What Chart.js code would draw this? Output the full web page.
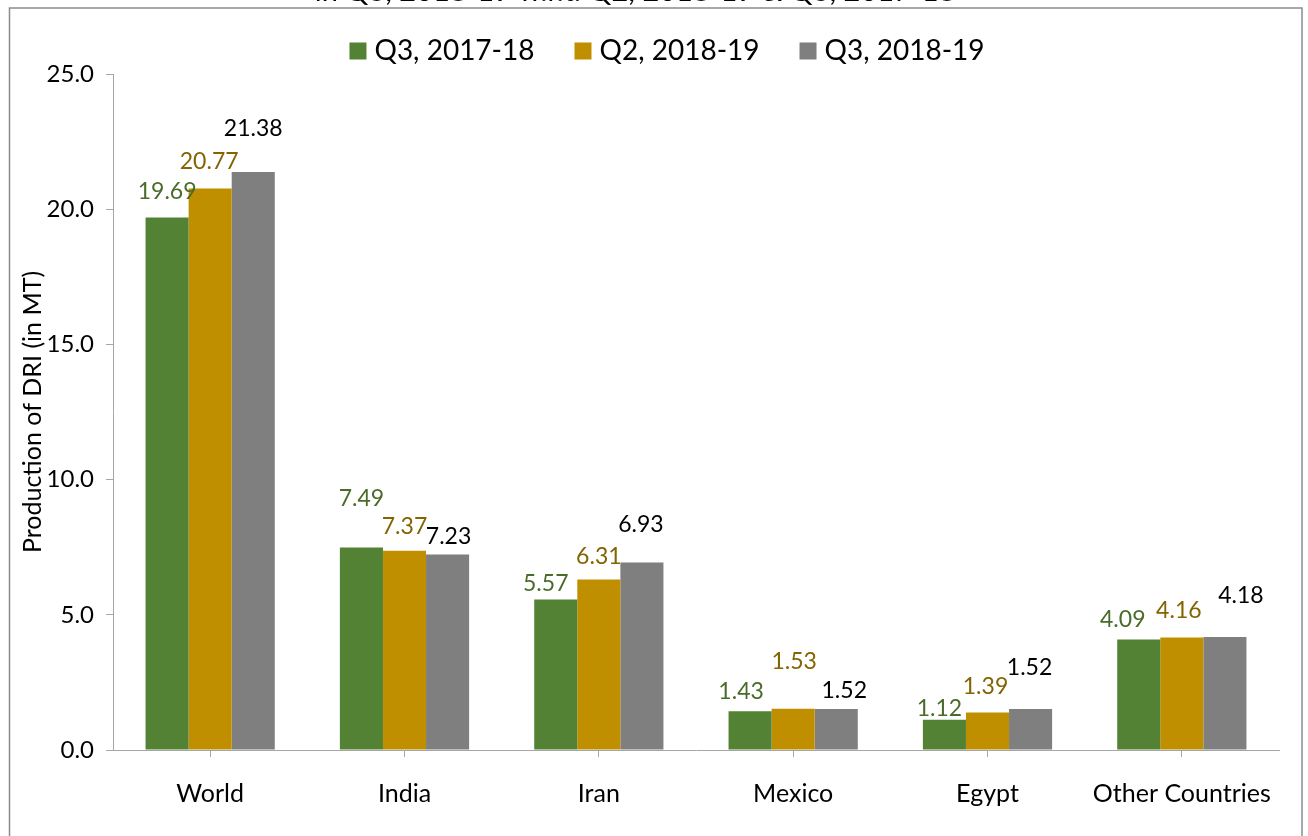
<!DOCTYPE html>
<html>
<head>
<meta charset="utf-8">
<script src="https://cdn.jsdelivr.net/npm/chart.js@4.4.1/dist/chart.umd.min.js"></script>
<style>
  html, body { margin: 0; padding: 0; background: #ffffff; }
</style>
</head>
<body>
<canvas id="driChart" width="1308" height="836"></canvas>
<script>
// Data
const countries = ["World", "India", "Iran", "Mexico", "Egypt", "Other Countries"];
const seriesNames = ["Q3, 2017-18", "Q2, 2018-19", "Q3, 2018-19"];
const q3_2017_18 = [19.69, 7.49, 5.57, 1.43, 1.12, 4.09];
const q2_2018_19 = [20.77, 7.37, 6.31, 1.53, 1.39, 4.16];
const q3_2018_19 = [21.38, 7.23, 6.93, 1.52, 1.52, 4.18];
const yTicks = [0, 5, 10, 15, 20, 25];

const barColors = ["#548235", "#BF8F00", "#7F7F7F"];
const labelColors = ["#4A6B2A", "#846400", "#000000"];

// manual nudges of the value labels, [dx, dy] from the top of each bar
const labelNudge = [
  [[0, -26], [0, -49], [-10, -16], [-9, -20], [-5, -11], [-16, -20]],
  [[-1, -27], [0, -24], [0, -23], [1, -47], [-2, -26], [-3, -27]],
  [[0, -43], [1, -18], [-1, -38], [8, -18], [-1, -41], [16, -41]],
];

const FONT = "Lato, 'DejaVu Sans', sans-serif";

// frame + clipped title + legend drawn by hand
const framePlugin = {
  id: "frame",
  beforeDraw(chart) {
    const ctx = chart.ctx;
    ctx.save();
    ctx.strokeStyle = "#8c8c8c";
    ctx.lineWidth = 1.5;
    ctx.strokeRect(9.5, 8, 1292.5, 900);
    ctx.fillStyle = "#000000";
    ctx.font = "29px " + FONT;
    ctx.textAlign = "center";
    ctx.textBaseline = "alphabetic";
    ctx.fillText("in Q3, 2018-19 w.r.t. Q2, 2018-19 & Q3, 2017-18", 635, 1);
    ctx.restore();
  },
  afterDraw(chart) {
    const ctx = chart.ctx;
    ctx.save();
    ctx.font = "28px " + FONT;
    ctx.textBaseline = "middle";
    ctx.textAlign = "left";
    const box = 17, gap = 8, spacing = 40;
    const widths = seriesNames.map((n) => ctx.measureText(n).width);
    const total = widths.reduce((a, w) => a + box + gap + w, 0) + spacing * (seriesNames.length - 1);
    let x = 667 - total / 2;
    const y = 51;
    seriesNames.forEach((name, i) => {
      ctx.fillStyle = barColors[i];
      ctx.fillRect(x, y - box / 2, box, box);
      ctx.fillStyle = "#000000";
      ctx.fillText(name, x + box + gap, y);
      x += box + gap + widths[i] + spacing;
    });
    ctx.restore();
  },
};

const valueLabels = {
  id: "valueLabels",
  afterDatasetsDraw(chart) {
    const ctx = chart.ctx;
    ctx.save();
    ctx.font = "23px " + FONT;
    ctx.textAlign = "center";
    ctx.textBaseline = "middle";
    chart.data.datasets.forEach((ds, di) => {
      const meta = chart.getDatasetMeta(di);
      ctx.fillStyle = labelColors[di];
      meta.data.forEach((bar, i) => {
        const n = labelNudge[di][i];
        ctx.fillText(ds.data[i].toFixed(2), bar.x + n[0], bar.y + n[1]);
      });
    });
    ctx.restore();
  },
};

const ctx = document.getElementById("driChart").getContext("2d");
window.driChart = new Chart(ctx, {
  type: "bar",
  data: {
    labels: countries,
    datasets: [
      { label: seriesNames[0], data: q3_2017_18, backgroundColor: barColors[0] },
      { label: seriesNames[1], data: q2_2018_19, backgroundColor: barColors[1] },
      { label: seriesNames[2], data: q3_2018_19, backgroundColor: barColors[2] },
    ],
  },
  options: {
    responsive: false,
    animation: false,
    layout: { padding: { top: 74, right: 29, bottom: 0, left: 0 } },
    datasets: {
      bar: { categoryPercentage: 0.665, barPercentage: 1.0 },
    },
    scales: {
      x: {
        grid: {
          drawOnChartArea: false,
          offset: false,
          tickLength: 7,
          color: "#a6a6a6",
        },
        border: { color: "#a6a6a6" },
        ticks: {
          color: "#000000",
          font: { family: FONT, size: 25 },
          padding: 22,
        },
        afterFit(scale) {
          scale.height = 86;
        },
      },
      y: {
        min: 0,
        max: 25,
        afterBuildTicks(scale) {
          scale.ticks = yTicks.map((v) => ({ value: v }));
        },
        grid: {
          drawOnChartArea: false,
          tickLength: 7,
          color: "#a6a6a6",
        },
        border: { color: "#a6a6a6" },
        ticks: {
          color: "#000000",
          font: { family: FONT, size: 24 },
          padding: 12,
          callback: (v) => Number(v).toFixed(1),
        },
        title: {
          display: true,
          text: "Production of DRI (in MT)",
          color: "#000000",
          font: { family: FONT, size: 25 },
          padding: { top: 18, bottom: 0 },
        },
        afterFit(scale) {
          scale.width = 113;
        },
      },
    },
    plugins: {
      legend: { display: false },
      tooltip: { enabled: false },
    },
  },
  plugins: [framePlugin, valueLabels],
});
</script>
</body>
</html>
